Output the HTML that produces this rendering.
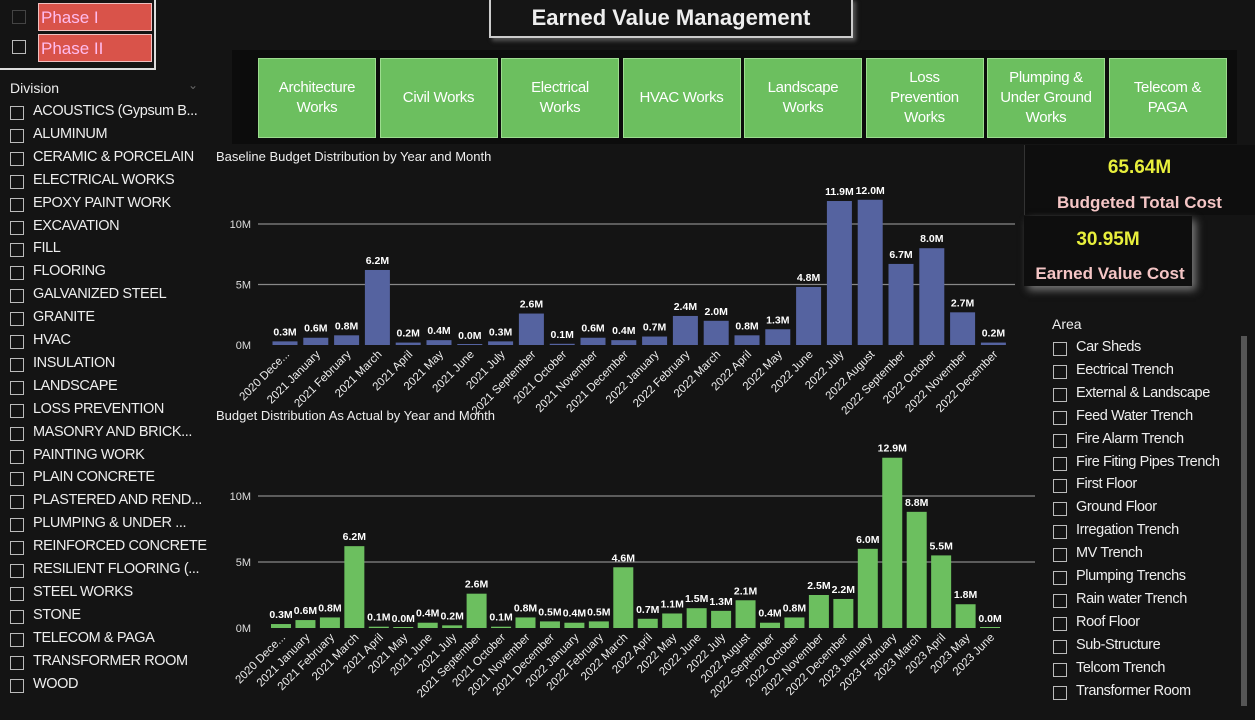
<!DOCTYPE html>
<html><head><meta charset="utf-8">
<style>
body{margin:0;width:1255px;height:720px;background:#141414;overflow:hidden;font-family:"Liberation Sans",sans-serif;color:#eee;position:relative}
.abs{position:absolute}
.cb{position:absolute;width:14px;height:14px;border:1.5px solid #bbb;box-sizing:border-box}
.item{position:absolute;font-size:14.5px;color:#eee;white-space:nowrap;letter-spacing:-0.4px}
.btn{position:absolute;top:58px;height:80px;width:118px;background:#6cbf5f;border:1px solid #9ddc8f;box-sizing:border-box;color:#fff;font-size:15px;display:flex;align-items:center;justify-content:center;text-align:center;line-height:20px;letter-spacing:-0.3px}
</style></head><body>
<div class="abs" style="left:-2px;top:-2px;width:158px;height:72px;border:2px solid #ddd;box-sizing:border-box"></div>
<div class="cb" style="left:12px;top:10px;border-color:#444"></div>
<div class="abs" style="left:38px;top:3px;width:114px;height:28px;background:#d9534a;border:1px solid #f0c0c0;color:#fbe;font-size:17px;line-height:28px;padding-left:2px;box-sizing:border-box">Phase I</div>
<div class="cb" style="left:12px;top:40px"></div>
<div class="abs" style="left:38px;top:34px;width:114px;height:28px;background:#d9534a;border:1px solid #f0c0c0;color:#fbe;font-size:17px;line-height:28px;padding-left:2px;box-sizing:border-box">Phase II</div>
<div class="abs" style="left:489px;top:-2px;width:364px;height:40px;border:2px solid #ccc;background:#151515;box-shadow:3px 3px 4px #555;font-weight:bold;font-size:22px;text-align:center;line-height:36px;box-sizing:border-box">Earned Value Management</div>
<div class="abs" style="left:10px;top:80px;font-size:14px">Division</div>
<div class="abs" style="left:188px;top:78px;font-size:12px;color:#666">⌄</div>
<div id="div-list"></div>
<div class="abs" style="left:232px;top:50px;width:1005px;height:94px;background:#0c0c0c"></div>
<div id="btns"></div>
<div class="abs" style="left:1024px;top:145px;width:231px;height:70px;background:#0e0e0e;border-left:1px solid #333"></div>
<div class="abs" style="left:1024px;top:157px;width:231px;text-align:center;color:#e8ef3c;font-weight:bold;font-size:19px">65.64M</div>
<div class="abs" style="left:1024px;top:193px;width:231px;text-align:center;color:#f4c5c5;font-weight:bold;font-size:17px">Budgeted Total Cost</div>
<div class="abs" style="left:1024px;top:216px;width:168px;height:70px;background:#0e0e0e;box-shadow:4px 4px 8px #777"></div>
<div class="abs" style="left:1024px;top:229px;width:168px;text-align:center;color:#e8ef3c;font-weight:bold;font-size:19px">30.95M</div>
<div class="abs" style="left:1028px;top:264px;width:164px;text-align:center;color:#f4c5c5;font-weight:bold;font-size:17px">Earned Value Cost</div>
<div class="abs" style="left:1052px;top:316px;font-size:14px">Area</div>
<div class="abs" style="left:1241px;top:336px;width:6px;height:370px;background:#555"></div>
<div id="area-list"></div>
<svg id="charts" class="abs" style="left:0;top:0" width="1255" height="720"></svg>
<script>
const divisions=["ACOUSTICS (Gypsum B...","ALUMINUM","CERAMIC & PORCELAIN","ELECTRICAL WORKS","EPOXY PAINT WORK","EXCAVATION","FILL","FLOORING","GALVANIZED STEEL","GRANITE","HVAC","INSULATION","LANDSCAPE","LOSS PREVENTION","MASONRY AND BRICK...","PAINTING WORK","PLAIN CONCRETE","PLASTERED AND REND...","PLUMPING & UNDER ...","REINFORCED CONCRETE","RESILIENT FLOORING (...","STEEL WORKS","STONE","TELECOM & PAGA","TRANSFORMER ROOM","WOOD"];
const areas=["Car Sheds","Eectrical Trench","External & Landscape","Feed Water Trench","Fire Alarm Trench","Fire Fiting Pipes Trench","First Floor","Ground Floor","Irregation Trench","MV Trench","Plumping Trenchs","Rain water Trench","Roof Floor","Sub-Structure","Telcom Trench","Transformer Room"];
const buttons=["Architecture<br>Works","Civil Works","Electrical<br>Works","HVAC Works","Landscape<br>Works","Loss<br>Prevention<br>Works","Plumping &amp;<br>Under Ground<br>Works","Telecom &amp;<br>PAGA"];
const topCats=["2020 Dece...","2021 January","2021 February","2021 March","2021 April","2021 May","2021 June","2021 July","2021 September","2021 October","2021 November","2021 December","2022 January","2022 February","2022 March","2022 April","2022 May","2022 June","2022 July","2022 August","2022 September","2022 October","2022 November","2022 December"];
const topVals=[0.3,0.6,0.8,6.2,0.2,0.4,0.0,0.3,2.6,0.1,0.6,0.4,0.7,2.4,2.0,0.8,1.3,4.8,11.9,12.0,6.7,8.0,2.7,0.2];
const botCats=["2020 Dece...","2021 January","2021 February","2021 March","2021 April","2021 May","2021 June","2021 July","2021 September","2021 October","2021 November","2021 December","2022 January","2022 February","2022 March","2022 April","2022 May","2022 June","2022 July","2022 August","2022 September","2022 October","2022 November","2022 December","2023 January","2023 February","2023 March","2023 April","2023 May","2023 June"];
const botVals=[0.3,0.6,0.8,6.2,0.1,0.0,0.4,0.2,2.6,0.1,0.8,0.5,0.4,0.5,4.6,0.7,1.1,1.5,1.3,2.1,0.4,0.8,2.5,2.2,6.0,12.9,8.8,5.5,1.8,0.0];
const ticks=[0,5,10];

const dl=document.getElementById('div-list');
divisions.forEach((d,i)=>{const y=105+i*22.9;
 const c=document.createElement('div');c.className='cb';c.style.left='10px';c.style.top=(y+1)+'px';
 
 dl.appendChild(c);
 const t=document.createElement('div');t.className='item';t.style.left='33px';t.style.top=(y-2)+'px';t.textContent=d;
 
 dl.appendChild(t);});
const al=document.getElementById('area-list');
areas.forEach((d,i)=>{const y=341+i*22.9;
 const c=document.createElement('div');c.className='cb';c.style.left='1053px';c.style.top=(y+1)+'px';
 
 al.appendChild(c);
 const t=document.createElement('div');t.className='item';t.style.left='1076px';t.style.top=(y-2)+'px';t.textContent=d;
 
 al.appendChild(t);});
const bl=document.getElementById('btns');
buttons.forEach((b,i)=>{const e=document.createElement('div');e.className='btn';e.style.left=(258+i*121.5)+'px';e.innerHTML=b;
 
 bl.appendChild(e);});

const svg=document.getElementById('charts');const NS='http://www.w3.org/2000/svg';
function mk(tag,attrs,txt){const e=document.createElementNS(NS,tag);for(const k in attrs)e.setAttribute(k,attrs[k]);if(txt!=null)e.textContent=txt;svg.appendChild(e);return e;}
function chart(cfg,cats,vals){
 const yS=v=>cfg.y0-v*cfg.pxPerM, xS=i=>cfg.x0+i*cfg.step;
 const t=mk('text',{x:216,y:cfg.titleY,fill:'#eee','font-size':13},cfg.title);
 
 
 ticks.forEach(v=>{
  if(v>0){const g=mk('line',{x1:cfg.gx0,x2:cfg.gx1,y1:yS(v),y2:yS(v),stroke:'#888','stroke-width':1.3});
   
   }
  const l=mk('text',{x:251,y:yS(v)+4,fill:'#ddd','font-size':11,'text-anchor':'end'},v+'M');
  
  
 });
 vals.forEach((v,i)=>{
  const x=xS(i),y=yS(v);
  const r=mk('rect',{x:x-cfg.bw/2,y:Math.min(y,cfg.y0-1),width:cfg.bw,height:Math.max(cfg.y0-y,1),fill:cfg.color});
  
  
  const lb=mk('text',{x:x,y:y-6,fill:'#fff','font-size':10.5,'font-weight':'bold','text-anchor':'middle'},v.toFixed(1)+'M');
  
  
  const c=mk('text',{x:x+5,y:cfg.y0+10,fill:'#eee','font-size':11.5,'text-anchor':'end',transform:`rotate(-45 ${x+5} ${cfg.y0+10})`},cats[i]);
  
  
 });
}
chart({name:'baseline-chart',title:'Baseline Budget Distribution by Year and Month',titleY:161,y0:345,pxPerM:12.1,x0:285,step:30.8,bw:25,gx0:258,gx1:1015,color:'#5563a0'},topCats,topVals);
chart({name:'actual-chart',title:'Budget Distribution As Actual  by Year and Month',titleY:420,y0:628,pxPerM:13.2,x0:281,step:24.45,bw:20,gx0:258,gx1:1035,color:'#6cbf5f'},botCats,botVals);
</script>
</body></html>
